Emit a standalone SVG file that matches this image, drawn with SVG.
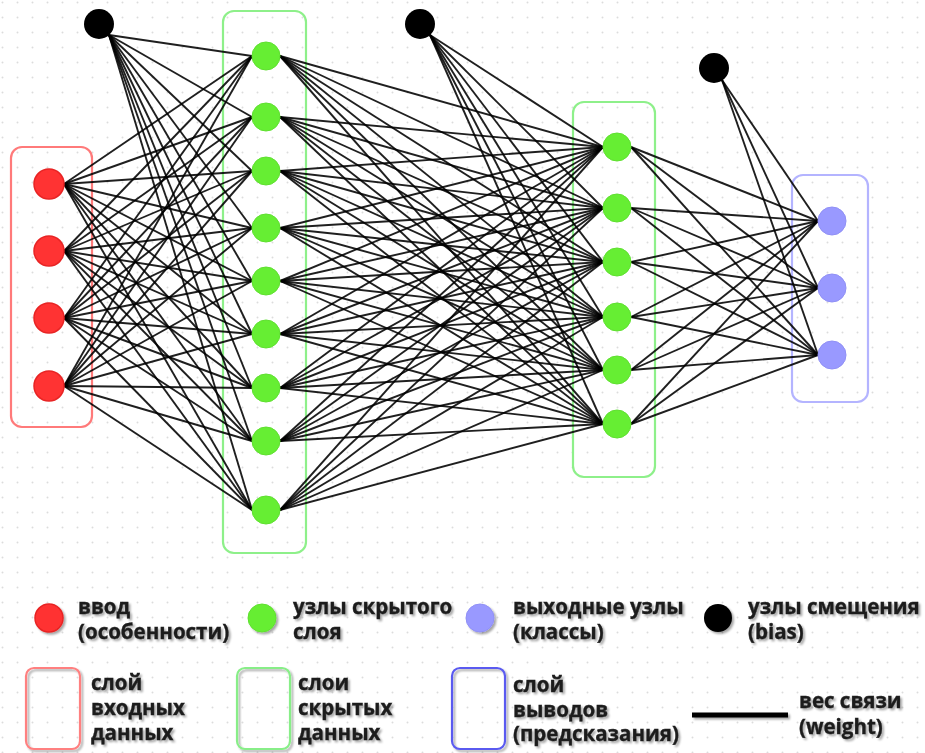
<svg xmlns="http://www.w3.org/2000/svg" width="925" height="753" viewBox="0 0 925 753">
<defs>
<pattern id="dots" width="15" height="15" patternUnits="userSpaceOnUse" x="0" y="0">
<circle cx="2.5" cy="2.5" r="1" fill="#dcdcdc"/>
</pattern>
<filter id="sh" x="-10%" y="-10%" width="130%" height="130%">
<feGaussianBlur in="SourceAlpha" stdDeviation="1"/>
<feOffset dx="1.5" dy="1.5" result="b"/>
<feComponentTransfer><feFuncA type="linear" slope="0.35"/></feComponentTransfer>
<feMerge><feMergeNode/><feMergeNode in="SourceGraphic"/></feMerge>
</filter>
</defs>
<style>
.w line{stroke:#000;stroke-width:1.9;stroke-opacity:0.88}
.in{fill:#ff3333;stroke:#e82424;stroke-width:1.5}
.hid{fill:#66ee33;stroke:#5fe030;stroke-width:1}
.out{fill:#9999ff;stroke:#9090f5;stroke-width:1}
.bias{fill:#000}
.box{fill:none;stroke-width:2.2}
.t{font-family:"Open Sans","Noto Sans","DejaVu Sans",sans-serif;font-weight:bold;font-size:20.5px;fill:#1c1c1c;stroke:#1c1c1c;stroke-width:0.35}
</style>
<rect width="925" height="753" fill="#fff"/>
<rect width="925" height="753" fill="url(#dots)"/>

<g id="layer-boxes">
<rect id="box-input" class="box" x="11" y="147" width="81" height="280" rx="11" stroke="#ff7a7a"/>
<rect id="box-hidden1" class="box" x="223" y="11" width="83" height="542" rx="11" stroke="#8ef08a"/>
<rect id="box-hidden2" class="box" x="573" y="102" width="82" height="375" rx="11" stroke="#8ef08a"/>
<rect id="box-output" class="box" x="792" y="175" width="76" height="227" rx="11" stroke="#b4b4ff"/>
</g>

<g id="connectors" class="w">
<line x1="64" y1="184" x2="252" y2="56"/><line x1="64" y1="184" x2="252" y2="117"/><line x1="64" y1="184" x2="252" y2="171"/><line x1="64" y1="184" x2="252" y2="228"/><line x1="64" y1="184" x2="252" y2="281"/><line x1="64" y1="184" x2="252" y2="334"/><line x1="64" y1="184" x2="252" y2="388"/><line x1="64" y1="184" x2="252" y2="441"/><line x1="64" y1="184" x2="252" y2="510"/>
<line x1="64" y1="251" x2="252" y2="56"/><line x1="64" y1="251" x2="252" y2="117"/><line x1="64" y1="251" x2="252" y2="171"/><line x1="64" y1="251" x2="252" y2="228"/><line x1="64" y1="251" x2="252" y2="281"/><line x1="64" y1="251" x2="252" y2="334"/><line x1="64" y1="251" x2="252" y2="388"/><line x1="64" y1="251" x2="252" y2="441"/><line x1="64" y1="251" x2="252" y2="510"/>
<line x1="64" y1="318" x2="252" y2="56"/><line x1="64" y1="318" x2="252" y2="117"/><line x1="64" y1="318" x2="252" y2="171"/><line x1="64" y1="318" x2="252" y2="228"/><line x1="64" y1="318" x2="252" y2="281"/><line x1="64" y1="318" x2="252" y2="334"/><line x1="64" y1="318" x2="252" y2="388"/><line x1="64" y1="318" x2="252" y2="441"/><line x1="64" y1="318" x2="252" y2="510"/>
<line x1="64" y1="386" x2="252" y2="56"/><line x1="64" y1="386" x2="252" y2="117"/><line x1="64" y1="386" x2="252" y2="171"/><line x1="64" y1="386" x2="252" y2="228"/><line x1="64" y1="386" x2="252" y2="281"/><line x1="64" y1="386" x2="252" y2="334"/><line x1="64" y1="386" x2="252" y2="388"/><line x1="64" y1="386" x2="252" y2="441"/><line x1="64" y1="386" x2="252" y2="510"/>
<line x1="109" y1="35" x2="252" y2="56"/><line x1="109" y1="35" x2="252" y2="117"/><line x1="109" y1="35" x2="252" y2="171"/><line x1="109" y1="35" x2="252" y2="228"/><line x1="109" y1="35" x2="252" y2="281"/><line x1="109" y1="35" x2="252" y2="334"/><line x1="109" y1="35" x2="252" y2="388"/><line x1="109" y1="35" x2="252" y2="441"/><line x1="109" y1="35" x2="252" y2="510"/>
<line x1="280" y1="56" x2="603" y2="147"/><line x1="280" y1="56" x2="603" y2="208"/><line x1="280" y1="56" x2="603" y2="262"/><line x1="280" y1="56" x2="603" y2="317"/><line x1="280" y1="56" x2="603" y2="370"/><line x1="280" y1="56" x2="603" y2="424"/>
<line x1="280" y1="117" x2="603" y2="147"/><line x1="280" y1="117" x2="603" y2="208"/><line x1="280" y1="117" x2="603" y2="262"/><line x1="280" y1="117" x2="603" y2="317"/><line x1="280" y1="117" x2="603" y2="370"/><line x1="280" y1="117" x2="603" y2="424"/>
<line x1="280" y1="171" x2="603" y2="147"/><line x1="280" y1="171" x2="603" y2="208"/><line x1="280" y1="171" x2="603" y2="262"/><line x1="280" y1="171" x2="603" y2="317"/><line x1="280" y1="171" x2="603" y2="370"/><line x1="280" y1="171" x2="603" y2="424"/>
<line x1="280" y1="228" x2="603" y2="147"/><line x1="280" y1="228" x2="603" y2="208"/><line x1="280" y1="228" x2="603" y2="262"/><line x1="280" y1="228" x2="603" y2="317"/><line x1="280" y1="228" x2="603" y2="370"/><line x1="280" y1="228" x2="603" y2="424"/>
<line x1="280" y1="281" x2="603" y2="147"/><line x1="280" y1="281" x2="603" y2="208"/><line x1="280" y1="281" x2="603" y2="262"/><line x1="280" y1="281" x2="603" y2="317"/><line x1="280" y1="281" x2="603" y2="370"/><line x1="280" y1="281" x2="603" y2="424"/>
<line x1="280" y1="334" x2="603" y2="147"/><line x1="280" y1="334" x2="603" y2="208"/><line x1="280" y1="334" x2="603" y2="262"/><line x1="280" y1="334" x2="603" y2="317"/><line x1="280" y1="334" x2="603" y2="370"/><line x1="280" y1="334" x2="603" y2="424"/>
<line x1="280" y1="388" x2="603" y2="147"/><line x1="280" y1="388" x2="603" y2="208"/><line x1="280" y1="388" x2="603" y2="262"/><line x1="280" y1="388" x2="603" y2="317"/><line x1="280" y1="388" x2="603" y2="370"/><line x1="280" y1="388" x2="603" y2="424"/>
<line x1="280" y1="441" x2="603" y2="147"/><line x1="280" y1="441" x2="603" y2="208"/><line x1="280" y1="441" x2="603" y2="262"/><line x1="280" y1="441" x2="603" y2="317"/><line x1="280" y1="441" x2="603" y2="370"/><line x1="280" y1="441" x2="603" y2="424"/>
<line x1="280" y1="510" x2="603" y2="147"/><line x1="280" y1="510" x2="603" y2="208"/><line x1="280" y1="510" x2="603" y2="262"/><line x1="280" y1="510" x2="603" y2="317"/><line x1="280" y1="510" x2="603" y2="370"/><line x1="280" y1="510" x2="603" y2="424"/>
<line x1="430" y1="35" x2="603" y2="147"/><line x1="430" y1="35" x2="603" y2="208"/><line x1="430" y1="35" x2="603" y2="262"/><line x1="430" y1="35" x2="603" y2="317"/><line x1="430" y1="35" x2="603" y2="370"/><line x1="430" y1="35" x2="603" y2="424"/>
<line x1="631" y1="147" x2="818" y2="221"/><line x1="631" y1="147" x2="818" y2="288"/><line x1="631" y1="147" x2="818" y2="355"/>
<line x1="631" y1="208" x2="818" y2="221"/><line x1="631" y1="208" x2="818" y2="288"/><line x1="631" y1="208" x2="818" y2="355"/>
<line x1="631" y1="262" x2="818" y2="221"/><line x1="631" y1="262" x2="818" y2="288"/><line x1="631" y1="262" x2="818" y2="355"/>
<line x1="631" y1="317" x2="818" y2="221"/><line x1="631" y1="317" x2="818" y2="288"/><line x1="631" y1="317" x2="818" y2="355"/>
<line x1="631" y1="370" x2="818" y2="221"/><line x1="631" y1="370" x2="818" y2="288"/><line x1="631" y1="370" x2="818" y2="355"/>
<line x1="631" y1="424" x2="818" y2="221"/><line x1="631" y1="424" x2="818" y2="288"/><line x1="631" y1="424" x2="818" y2="355"/>
<line x1="722" y1="80" x2="818" y2="221"/><line x1="722" y1="80" x2="818" y2="288"/><line x1="722" y1="80" x2="818" y2="355"/>
</g>

<g id="input-nodes">
<g id="in1"><circle class="in" cx="49" cy="184" r="15"/></g>
<g id="in2"><circle class="in" cx="49" cy="251" r="15"/></g>
<g id="in3"><circle class="in" cx="49" cy="318" r="15"/></g>
<g id="in4"><circle class="in" cx="49" cy="386" r="15"/></g>
</g>
<g id="hidden1-nodes">
<g id="h1-1"><circle class="hid" cx="266" cy="56" r="14"/></g>
<g id="h1-2"><circle class="hid" cx="266" cy="117" r="14"/></g>
<g id="h1-3"><circle class="hid" cx="266" cy="171" r="14"/></g>
<g id="h1-4"><circle class="hid" cx="266" cy="228" r="14"/></g>
<g id="h1-5"><circle class="hid" cx="266" cy="281" r="14"/></g>
<g id="h1-6"><circle class="hid" cx="266" cy="334" r="14"/></g>
<g id="h1-7"><circle class="hid" cx="266" cy="388" r="14"/></g>
<g id="h1-8"><circle class="hid" cx="266" cy="441" r="14"/></g>
<g id="h1-9"><circle class="hid" cx="266" cy="510" r="14"/></g>
</g>
<g id="hidden2-nodes">
<g id="h2-1"><circle class="hid" cx="617" cy="147" r="14"/></g>
<g id="h2-2"><circle class="hid" cx="617" cy="208" r="14"/></g>
<g id="h2-3"><circle class="hid" cx="617" cy="262" r="14"/></g>
<g id="h2-4"><circle class="hid" cx="617" cy="317" r="14"/></g>
<g id="h2-5"><circle class="hid" cx="617" cy="370" r="14"/></g>
<g id="h2-6"><circle class="hid" cx="617" cy="424" r="14"/></g>
</g>
<g id="output-nodes">
<g id="out1"><circle class="out" cx="832" cy="221" r="14"/></g>
<g id="out2"><circle class="out" cx="832" cy="288" r="14"/></g>
<g id="out3"><circle class="out" cx="832" cy="355" r="14"/></g>
</g>
<g id="bias-nodes">
<g id="bias1"><circle class="bias" cx="99" cy="24" r="15"/></g>
<g id="bias2"><circle class="bias" cx="420" cy="24" r="15"/></g>
<g id="bias3"><circle class="bias" cx="714" cy="68" r="15"/></g>
</g>

<g id="legend" filter="url(#sh)">
<g id="leg-input"><circle class="in" cx="49" cy="618" r="14"/><text class="t" x="78" y="614">ввод</text><text class="t" x="78" y="639">(особенности)</text></g>
<g id="leg-hidden"><circle class="hid" cx="262" cy="618" r="14"/><text class="t" x="293" y="614">узлы скрытого</text><text class="t" x="293" y="639">слоя</text></g>
<g id="leg-output"><circle class="out" cx="480" cy="618" r="14"/><text class="t" x="513" y="614">выходные узлы</text><text class="t" x="513" y="639">(классы)</text></g>
<g id="leg-bias"><circle class="bias" cx="718" cy="618" r="14"/><text class="t" x="748" y="614">узлы смещения</text><text class="t" x="748" y="639">(bias)</text></g>
<g id="leg-inbox"><rect class="box" x="26" y="668" width="54" height="81" rx="8" stroke="#ff8080" fill="#fff"/><text class="t" x="91" y="690">слой</text><text class="t" x="91" y="715">входных</text><text class="t" x="91" y="740">данных</text></g>
<g id="leg-hidbox"><rect class="box" x="237" y="668" width="53" height="81" rx="8" stroke="#88ee88" fill="#fff"/><text class="t" x="298" y="690">слои</text><text class="t" x="298" y="715">скрытых</text><text class="t" x="298" y="740">данных</text></g>
<g id="leg-outbox"><rect class="box" x="452" y="668" width="53" height="81" rx="8" stroke="#5a5af0" fill="#fff"/><text class="t" x="513" y="692">слой</text><text class="t" x="513" y="717">выводов</text><text class="t" x="513" y="741">(предсказания)</text></g>
<g id="leg-weight"><line x1="692" y1="715" x2="788" y2="715" stroke="#000" stroke-width="5"/><text class="t" x="799" y="708">вес связи</text><text class="t" x="799" y="734">(weight)</text></g>
</g>
</svg>
